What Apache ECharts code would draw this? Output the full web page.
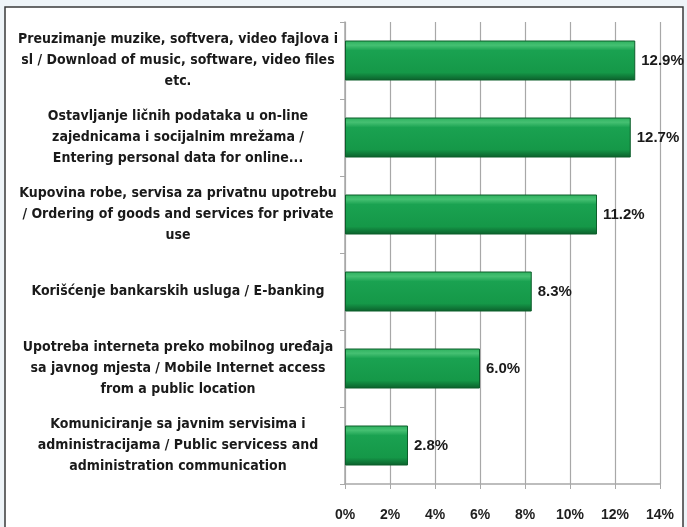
<!DOCTYPE html>
<html>
<head>
<meta charset="utf-8">
<script src="https://cdn.jsdelivr.net/npm/echarts@6/dist/echarts.min.js"></script>
<style>
  html, body { margin: 0; padding: 0; background: #eef4f8; }
  #chart { width: 687px; height: 527px; }
</style>
</head>
<body>
<div id="chart"></div>
<script>
// Internet activities, share of users (%)
const categories = [
  'Preuzimanje muzike, softvera, video fajlova i\nsl / Download of music, software, video files\netc.',
  'Ostavljanje ličnih podataka u on-line\nzajednicama i socijalnim mrežama /\nEntering personal data for online...',
  'Kupovina robe, servisa za privatnu upotrebu\n/ Ordering of goods and services for private\nuse',
  'Korišćenje bankarskih usluga / E-banking',
  'Upotreba interneta preko mobilnog uređaja\nsa javnog mjesta / Mobile Internet access\nfrom a public location',
  'Komuniciranje sa javnim servisima i\nadministracijama / Public servicess and\nadministration communication'
];
const values = [12.9, 12.7, 11.2, 8.3, 6.0, 2.8];
const axisMax = 14;
const axisStep = 2;

const chart = echarts.init(document.getElementById('chart'), null, { renderer: 'canvas' });

const barFill = new echarts.graphic.LinearGradient(0, 0, 0, 1, [
  { offset: 0, color: '#2cb05d' },
  { offset: 0.12, color: '#45c072' },
  { offset: 0.25, color: '#1aa251' },
  { offset: 0.8, color: '#159848' },
  { offset: 1, color: '#0b5f2b' }
]);

chart.setOption({
  animation: false,
  backgroundColor: '#eef4f8',
  graphic: [{
    type: 'rect',
    z: -10,
    shape: { x: 5, y: 7, width: 678, height: 540 },
    style: { fill: '#ffffff', stroke: '#3a3a3a', lineWidth: 1.5 }
  }],
  grid: { left: 345, right: 27, top: 22, bottom: 43, containLabel: false },
  xAxis: {
    type: 'value',
    min: 0,
    max: axisMax,
    interval: axisStep,
    axisLine: { show: true, lineStyle: { color: '#a8a8a8', width: 1.5 } },
    axisTick: { show: true, length: 5, lineStyle: { color: '#a8a8a8' } },
    splitLine: { show: true, lineStyle: { color: '#a8a8a8', width: 1.2 } },
    axisLabel: {
      formatter: '{value}%',
      margin: 24,
      color: '#1e1e1e',
      fontFamily: 'Liberation Sans',
      fontWeight: 'bold',
      fontSize: 14
    }
  },
  yAxis: {
    type: 'category',
    data: categories,
    inverse: true,
    axisLine: { show: true, lineStyle: { color: '#a8a8a8', width: 1.5 } },
    axisTick: { show: true, length: 5, lineStyle: { color: '#a8a8a8' } },
    axisLabel: {
      align: 'center',
      margin: 167,
      lineHeight: 21,
      color: '#1a1a1a',
      fontFamily: '"Liberation Sans Narrow", "DejaVu Sans Condensed", sans-serif',
      fontWeight: 'bold',
      fontSize: 14
    }
  },
  series: [{
    type: 'bar',
    data: values,
    barWidth: 40,
    itemStyle: {
      color: barFill,
      borderColor: '#0c5e2b',
      borderWidth: 1
    },
    label: {
      show: true,
      position: 'right',
      distance: 6,
      formatter: p => p.value.toFixed(1) + '%',
      color: '#1a1a1a',
      fontFamily: 'Liberation Sans',
      fontWeight: 'bold',
      fontSize: 15
    }
  }]
});
</script>
</body>
</html>
